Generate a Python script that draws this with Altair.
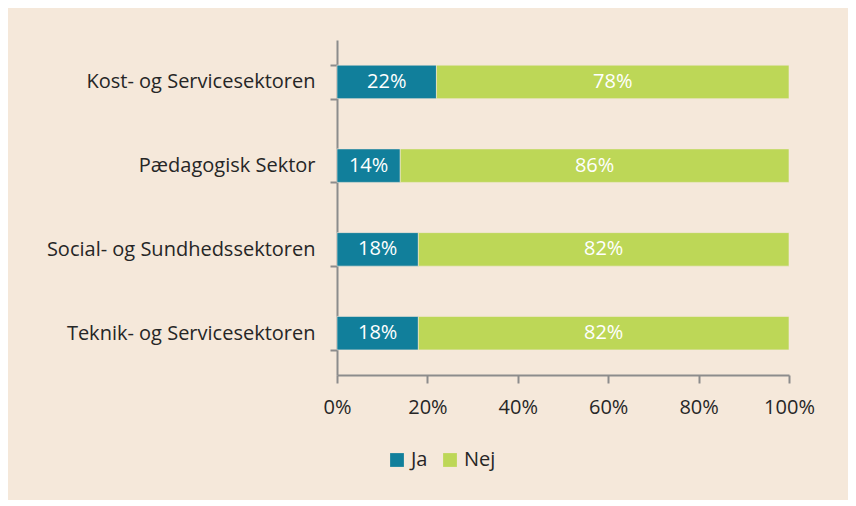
import altair as alt
import pandas as pd

categories = ["Kost- og Servicesektoren", "Pædagogisk Sektor",
              "Social- og Sundhedssektoren", "Teknik- og Servicesektoren"]
ja = [22, 14, 18, 18]
nej = [78, 86, 82, 82]
answers = ["Ja", "Nej"]
colors = ["#117F9B", "#BDD757"]
x_ticks = [0, 0.2, 0.4, 0.6, 0.8, 1.0]

rows = []
for c, a, b in zip(categories, ja, nej):
    rows.append({"cat": c, "svar": "Ja", "v": a / 100, "ord": 0})
    rows.append({"cat": c, "svar": "Nej", "v": b / 100, "ord": 1})
df = pd.DataFrame(rows)

FONT = "Open Sans"
FS = 20

base = alt.Chart(df).transform_stack(
    stack="v", groupby=["cat"], as_=["x0", "x1"], sort=[alt.SortField("ord")]
)

y = alt.Y("cat:N", sort=categories, title=None,
          scale=alt.Scale(paddingInner=0.6, paddingOuter=0.3),
          axis=alt.Axis(tickBand="extent", domainColor="#8C8C8C", domainWidth=2,
                        tickColor="#8C8C8C", tickWidth=2, tickSize=7,
                        labelFontSize=FS, labelColor="#262626", labelFont=FONT,
                        labelPadding=15, labelLimit=0, grid=False))

bars = base.mark_bar(stroke="#F5E8DA", strokeWidth=0.6).encode(
    x=alt.X("x0:Q", title=None,
            scale=alt.Scale(domain=[0, 1], nice=False),
            axis=alt.Axis(format="%", values=x_ticks, domainColor="#8C8C8C",
                          domainWidth=2, tickColor="#8C8C8C", tickWidth=2,
                          tickSize=8, labelFontSize=FS, labelColor="#262626",
                          labelFont=FONT, labelPadding=14, grid=False,
                          labelFlush=False)),
    x2="x1:Q",
    y=y,
    color=alt.Color("svar:N", sort=answers,
                    scale=alt.Scale(domain=answers, range=colors),
                    legend=alt.Legend(title=None, orient="none", legendX=50,
                                      legendY=410, direction="horizontal",
                                      symbolType="square", symbolSize=190,
                                      symbolStrokeWidth=0, labelFontSize=FS,
                                      labelFont=FONT, labelColor="#262626",
                                      columnPadding=12, labelOffset=4)),
)

labels = base.transform_calculate(
    mid="(datum.x0 + datum.x1) / 2"
).mark_text(color="white", fontSize=FS, font=FONT).encode(
    x="mid:Q",
    y=alt.Y("cat:N", sort=categories),
    text=alt.Text("v:Q", format=".0%"),
)

chart = (bars + labels).properties(
    width=452, height=335,
    background="#F5E8DA",
    padding={"left": 329, "top": 32, "right": 59, "bottom": 125},
    autosize=alt.AutoSizeParams(type="none"),
).configure_view(stroke=None)

chart.save("out.html", embed_options={"renderer": "svg", "actions": False})
